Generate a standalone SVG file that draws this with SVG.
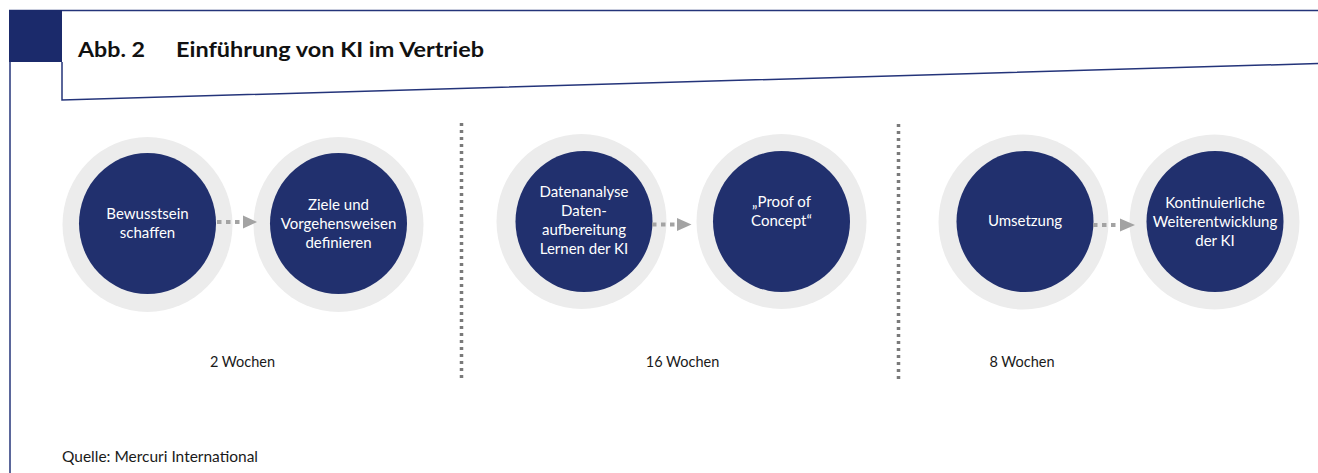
<svg xmlns="http://www.w3.org/2000/svg" width="1318" height="473" viewBox="0 0 1318 473">
  <style>
    .frame { fill: none; stroke: #24347a; stroke-width: 1.5; }
    .ring { fill: #ececec; }
    .core { fill: #21306e; }
    .label { font-family: Lato, "Open Sans", sans-serif; font-size: 15px; fill: #ffffff; text-anchor: middle; }
    .dur { font-family: Lato, "Open Sans", sans-serif; font-size: 14.5px; fill: #1a1a1a; text-anchor: middle; }
    .title { font-family: Lato, "Open Sans", sans-serif; font-weight: bold; font-size: 21px; fill: #111111; }
    .src { font-family: Lato, "Open Sans", sans-serif; font-size: 15px; fill: #1a1a1a; }
    .flow { stroke: #a3a3a3; stroke-width: 4; stroke-dasharray: 4.5 4.5; fill: none; }
    .head { fill: #a3a3a3; }
    .sep { stroke: #7a7a7a; stroke-width: 3.5; stroke-dasharray: 3 4; fill: none; }
  </style>

  <!-- header frame -->
  <g id="header">
    <line class="frame" x1="9" y1="10.5" x2="1318" y2="10.5"/>
    <line class="frame" x1="10" y1="10" x2="10" y2="473"/>
    <rect x="9" y="10" width="53" height="52" fill="#1b2a6b"/>
    <polyline class="frame" points="62,62 62,100 1318,63.5"/>
    <text class="title" x="78" y="57" textLength="67" lengthAdjust="spacingAndGlyphs">Abb. 2</text>
    <text class="title" x="176" y="57" textLength="308" lengthAdjust="spacingAndGlyphs">Einführung von KI im Vertrieb</text>
  </g>

  <!-- phase separators -->
  <g id="separators">
    <line class="sep" x1="461.5" y1="123" x2="461.5" y2="380"/>
    <line class="sep" x1="898.5" y1="124" x2="898.5" y2="382"/>
  </g>

  <!-- phase 1 -->
  <g id="node-bewusstsein">
    <ellipse class="ring" cx="147.5" cy="224.5" rx="85" ry="87.5"/>
    <ellipse class="core" cx="147.5" cy="223.5" rx="68.5" ry="70.5"/>
    <text class="label" x="147.5" y="219">Bewusstsein</text>
    <text class="label" x="147.5" y="238">schaffen</text>
  </g>
  <g id="node-ziele">
    <ellipse class="ring" cx="338.5" cy="224.5" rx="85" ry="87.5"/>
    <ellipse class="core" cx="338.5" cy="223.5" rx="68.5" ry="70.5"/>
    <text class="label" x="338.5" y="210">Ziele und</text>
    <text class="label" x="338.5" y="229">Vorgehensweisen</text>
    <text class="label" x="338.5" y="248">definieren</text>
  </g>

  <!-- phase 2 -->
  <g id="node-datenanalyse">
    <ellipse class="ring" cx="581.5" cy="221.5" rx="85" ry="87.5"/>
    <ellipse class="core" cx="584" cy="221.5" rx="68.5" ry="70.5"/>
    <text class="label" x="584" y="197">Datenanalyse</text>
    <text class="label" x="584" y="216">Daten-</text>
    <text class="label" x="584" y="235">aufbereitung</text>
    <text class="label" x="584" y="254">Lernen der KI</text>
  </g>
  <g id="node-proof">
    <ellipse class="ring" cx="781.5" cy="221.5" rx="85" ry="87.5"/>
    <ellipse class="core" cx="781.5" cy="221.5" rx="68.5" ry="70.5"/>
    <text class="label" x="781.5" y="207">„Proof of</text>
    <text class="label" x="781.5" y="226">Concept“</text>
  </g>

  <!-- phase 3 -->
  <g id="node-umsetzung">
    <ellipse class="ring" cx="1023.5" cy="222" rx="85" ry="87.5"/>
    <ellipse class="core" cx="1025" cy="221.5" rx="68.5" ry="70.5"/>
    <text class="label" x="1025" y="226">Umsetzung</text>
  </g>
  <g id="node-weiterentwicklung">
    <ellipse class="ring" cx="1214.5" cy="222" rx="85" ry="87.5"/>
    <ellipse class="core" cx="1215" cy="221.5" rx="68.5" ry="70.5"/>
    <text class="label" x="1215" y="208">Kontinuierliche</text>
    <text class="label" x="1215" y="227">Weiterentwicklung</text>
    <text class="label" x="1215" y="246">der KI</text>
  </g>

  <!-- connectors -->
  <g id="connectors">
    <line class="flow" x1="217" y1="222" x2="240" y2="222"/>
    <polygon class="head" points="243,215.5 257,222 243,228.5"/>
    <line class="flow" x1="652" y1="224.5" x2="675" y2="224.5"/>
    <polygon class="head" points="677,218 691.5,224.5 677,231"/>
    <line class="flow" x1="1093" y1="225" x2="1117" y2="225"/>
    <polygon class="head" points="1120,218.5 1135,225 1120,231.5"/>
  </g>

  <!-- durations -->
  <g id="durations">
    <text class="dur" x="242.5" y="367">2 Wochen</text>
    <text class="dur" x="682.5" y="367">16 Wochen</text>
    <text class="dur" x="1022" y="367">8 Wochen</text>
  </g>

  <text class="src" x="62" y="462" textLength="196" lengthAdjust="spacingAndGlyphs">Quelle: Mercuri International</text>
</svg>
